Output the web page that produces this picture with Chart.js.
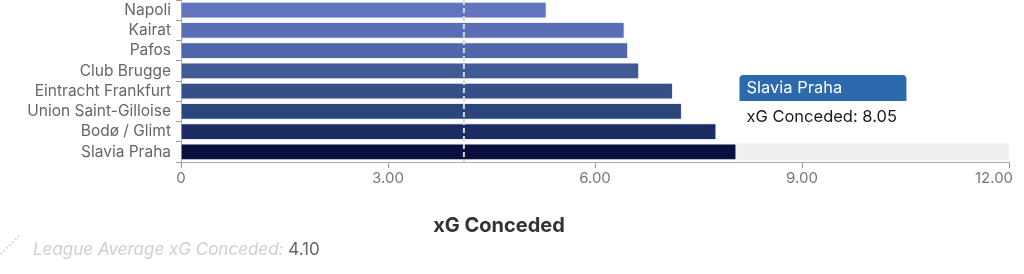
<!DOCTYPE html>
<html>
<head>
<meta charset="utf-8">
<script src="https://cdn.jsdelivr.net/npm/chart.js@4"></script>
<style>
  html, body { margin: 0; padding: 0; background: #fff; }
  #wrap { position: relative; width: 1024px; height: 274px; font-family: Inter, sans-serif; }
  #axisTitle { position: absolute; left: 0; width: 998px; top: 213px; text-align: center; font-weight: 700; font-size: 20px; color: #333; }
  #legend { position: absolute; left: 0; top: 233px; height: 26px; font-size: 17px; }
  #legend svg { position: absolute; left: 0; top: 0; }
  #legend span.lbl { position: absolute; left: 33px; top: 6px; white-space: nowrap; font-style: italic; color: #cfcfcf; }
  #legend span.val { font-style: normal; color: #666; }
</style>
</head>
<body>
<div id="wrap">
  <canvas id="chart" width="1024" height="274"></canvas>
  <div id="axisTitle">xG Conceded</div>
  <div id="legend">
    <svg width="24" height="26"><line x1="1" y1="21" x2="21" y2="1" stroke="#cfcfcf" stroke-width="2" stroke-dasharray="1.5 2.5"/></svg>
    <span class="lbl">League Average xG Conceded: <span class="val" id="avgVal"></span></span>
  </div>
</div>
<script>
  // данные
  const teams = ['Napoli', 'Kairat', 'Pafos', 'Club Brugge', 'Eintracht Frankfurt', 'Union Saint-Gilloise', 'Bodø / Glimt', 'Slavia Praha'];
  const xgConceded = [5.30, 6.43, 6.48, 6.64, 7.13, 7.26, 7.76, 8.05];
  const barColors = ['#6274be', '#5a6db6', '#5066ab', '#3f5a95', '#355089', '#2a467b', '#1c2c62', '#0b0f3d'];
  const xTicks = [0, 3, 6, 9, 12];
  const leagueAverage = 4.10;
  const hoveredIndex = 7;

  document.getElementById('avgVal').textContent = leagueAverage.toFixed(2);

  // фон, линия среднего и подсказка
  const extras = {
    id: 'extras',
    beforeDatasetsDraw(chart) {
      const ctx = chart.ctx;
      const bar = chart.getDatasetMeta(0).data[hoveredIndex];
      ctx.save();
      ctx.fillStyle = '#efefef';
      ctx.fillRect(bar.x, bar.y - bar.height / 2, chart.chartArea.right - bar.x, bar.height);
      ctx.restore();
    },
    afterDatasetsDraw(chart) {
      const ctx = chart.ctx;
      const x = chart.scales.x.getPixelForValue(leagueAverage);
      ctx.save();
      ctx.strokeStyle = '#d6d6d6';
      ctx.lineWidth = 2;
      ctx.setLineDash([5, 3]);
      ctx.beginPath();
      ctx.moveTo(x, chart.chartArea.top);
      ctx.lineTo(x, chart.chartArea.bottom);
      ctx.stroke();
      ctx.restore();
    },
    afterDraw(chart) {
      const ctx = chart.ctx;
      const bar = chart.getDatasetMeta(0).data[hoveredIndex];
      const left = bar.x + 3;
      const top = bar.y - 77;
      ctx.save();
      ctx.fillStyle = '#2c6aad';
      ctx.beginPath();
      ctx.roundRect(left, top, 167, 26, [4, 4, 0, 0]);
      ctx.fill();
      ctx.font = '16.5px Inter';
      ctx.textBaseline = 'middle';
      ctx.fillStyle = '#fff';
      ctx.fillText(teams[hoveredIndex], left + 7, top + 13);
      ctx.fillStyle = '#1a1a1a';
      ctx.fillText('xG Conceded: ' + xgConceded[hoveredIndex].toFixed(2), left + 7, top + 42);
      ctx.restore();
    }
  };

  new Chart(document.getElementById('chart'), {
    type: 'bar',
    data: {
      labels: teams,
      datasets: [{
        label: 'xG Conceded',
        data: xgConceded,
        backgroundColor: barColors,
        borderColor: 'rgba(225,230,248,0.75)',
        borderWidth: 1,
        barPercentage: 0.9,
        categoryPercentage: 0.92
      }]
    },
    options: {
      indexAxis: 'y',
      responsive: false,
      animation: false,
      layout: { padding: { top: 0, right: 15, bottom: 0, left: 0 } },
      plugins: { legend: { display: false }, tooltip: { enabled: false } },
      scales: {
        x: {
          min: 0,
          max: 12,
          afterBuildTicks: (scale) => { scale.ticks = xTicks.map(v => ({ value: v })); },
          afterFit: (scale) => { scale.height = 112; scale.paddingLeft = 0; scale.paddingRight = 0; },
          grid: { drawOnChartArea: false, drawTicks: true, tickLength: 6, color: '#999' },
          border: { color: '#aaa' },
          ticks: {
            font: { family: 'Inter', size: 15 },
            color: '#777',
            padding: 1,
            maxRotation: 0,
            callback: (v) => v === 0 ? '0' : (v === 12 ? '12.00\u2002\u2002\u2002\u2002' : v.toFixed(2))
          }
        },
        y: {
          afterFit: (scale) => { scale.width = 181; scale.paddingTop = 0; scale.paddingBottom = 0; },
          grid: { drawOnChartArea: false, drawTicks: true, tickLength: 5, color: '#999' },
          border: { color: '#aaa' },
          ticks: { font: { family: 'Inter', size: 15.5 }, color: '#666', padding: 5, autoSkip: false }
        }
      }
    },
    plugins: [extras]
  });
</script>
</body>
</html>
